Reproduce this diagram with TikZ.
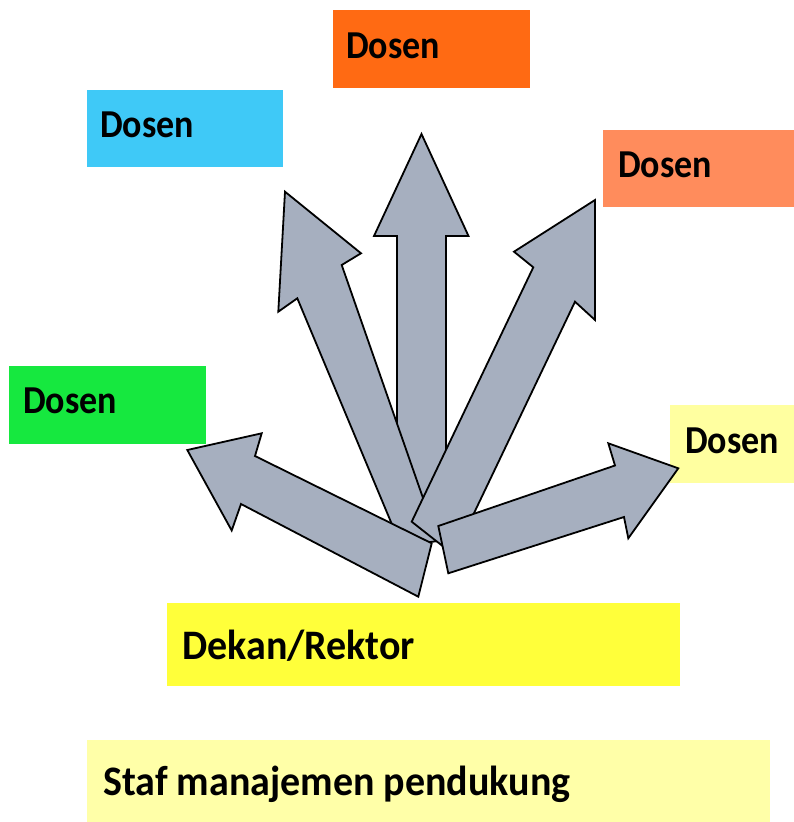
\documentclass[tikz,border=0pt]{standalone}
\usepackage{fontspec}
\usepackage{graphicx}
\setmainfont{Carlito}
\definecolor{orangeA}{HTML}{FF6A13}
\definecolor{cyanA}{HTML}{3FC9F7}
\definecolor{salmonA}{HTML}{FF8C5C}
\definecolor{greenA}{HTML}{16E83F}
\definecolor{paleY}{HTML}{FFFFA0}
\definecolor{yellowA}{HTML}{FFFF3A}
\definecolor{stafY}{HTML}{FFFFA8}
\definecolor{arrowgray}{HTML}{A6AFBF}
\tikzset{
  box/.style={draw=none, inner sep=0pt, anchor=north west},
  lbl/.style={anchor=base west, inner sep=0pt, font=\bfseries\fontsize{36}{40}\selectfont},
  blbl/.style={anchor=base west, inner sep=0pt, font=\bfseries\fontsize{40}{44}\selectfont},
  barrow/.style={fill=arrowgray, draw=black, line width=1.8pt, line join=miter}
}
\begin{document}
\begin{tikzpicture}[x=1pt, y=-1pt]
\useasboundingbox (0,0) rectangle (794,822);
% boxes
\node[box, fill=orangeA, minimum width=197pt, minimum height=78pt] (b1) at (333,10) {};
\node[box, fill=cyanA, minimum width=196pt, minimum height=77pt] (b2) at (87,90) {};
\node[box, fill=salmonA, minimum width=191pt, minimum height=77pt] (b3) at (603,130) {};
\node[box, fill=greenA, minimum width=197pt, minimum height=78pt] (b4) at (9,366) {};
\node[box, fill=paleY, minimum width=124pt, minimum height=78pt] (b5) at (670,405) {};
\node[box, fill=yellowA, minimum width=513pt, minimum height=83pt] (b6) at (167,603) {};
\node[box, fill=stafY, minimum width=683pt, minimum height=82pt] (b7) at (87,740) {};
% labels
\node[lbl] (t1) at (346,58) {\scalebox{1}[1.1]{Dosen}};
\node[lbl] (t2) at (100,137) {\scalebox{1}[1.1]{Dosen}};
\node[lbl] (t3) at (618,177) {\scalebox{1}[1.1]{Dosen}};
\node[lbl] (t4) at (23,413) {\scalebox{1}[1.1]{Dosen}};
\node[lbl] (t5) at (685,453) {\scalebox{1}[1.1]{Dosen}};
\node[blbl] (t6) at (182,659) {\scalebox{1}[1.05]{Dekan/Rektor}};
\node[blbl] (t7) at (103,795) {\scalebox{1}[1.05]{Staf manajemen pendukung}};
% block arrows (vertical, upper-left, upper-right, lower-left, lower-right)
\draw[barrow] (397,500) -- (397,236) -- (374,236) -- (421.5,134) -- (468.5,236) -- (446,236) -- (446,500) -- cycle;
\draw[barrow] (401,546) -- (297.3,298.3) -- (278.3,311.7) -- (285,191.7) -- (361,253.3) -- (341.7,265) -- (438,541) -- cycle;
\draw[barrow] (411.7,521.7) -- (533.3,267.3) -- (514,251.7) -- (595,200) -- (595,320) -- (575,301.7) -- (454,555) -- cycle;
\draw[barrow] (431.7,543.3) -- (255,456) -- (261.7,433.3) -- (187.3,450) -- (231.7,530.5) -- (241,504) -- (418.3,596.7) -- cycle;
\draw[barrow] (438.3,526) -- (615,465.5) -- (608.3,443.3) -- (678.3,468.3) -- (628.3,538.3) -- (624,517) -- (448.3,573.3) -- cycle;
\end{tikzpicture}
\end{document}
